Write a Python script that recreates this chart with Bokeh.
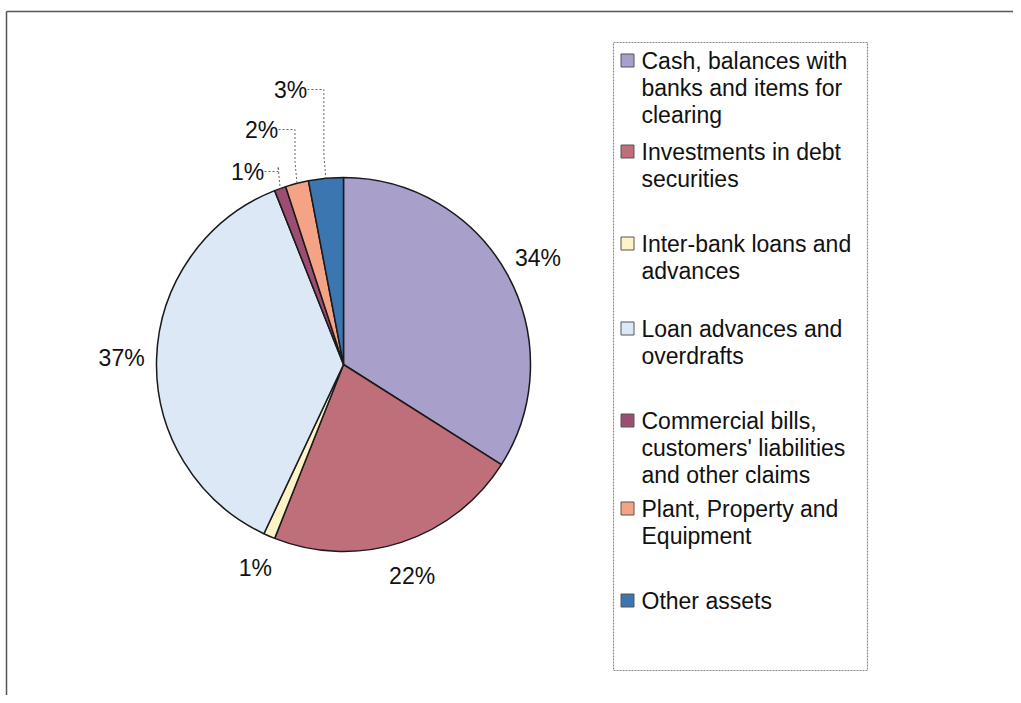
import math
from bokeh.plotting import figure
from bokeh.models import Range1d
from bokeh.core.properties import value
from bokeh.embed import file_html
from bokeh.resources import INLINE

# ---- data ----
categories = [
    "Cash, balances with banks and items for clearing",
    "Investments in debt securities",
    "Inter-bank loans and advances",
    "Loan advances and overdrafts",
    "Commercial bills, customers' liabilities and other claims",
    "Plant, Property and Equipment",
    "Other assets",
]
legend_lines = [
    ["Cash, balances with", "banks and items for", "clearing"],
    ["Investments in debt", "securities"],
    ["Inter-bank loans and", "advances"],
    ["Loan advances and", "overdrafts"],
    ["Commercial bills,", "customers' liabilities", "and other claims"],
    ["Plant, Property and", "Equipment"],
    ["Other assets"],
]
shares = [34, 22, 1, 37, 1, 2, 3]
labels = ["34%", "22%", "1%", "37%", "1%", "2%", "3%"]
colors = ["#a89fcb", "#bf6f7a", "#fdf3c6", "#dde8f6", "#9c4e72", "#f4a385", "#3b76b0"]

# ---- layout constants (pixel space) ----
W, H = 1013, 695
CX, CY, R = 343, 364, 187
LABEL_R = 222
FONT = "Liberation Sans"
FS = "23px"

p = figure(width=W, height=H, output_backend="svg", toolbar_location=None,
           x_range=Range1d(0, W), y_range=Range1d(-H, 0),
           min_border=0)
p.axis.visible = False
p.grid.visible = False
p.outline_line_color = None
p.background_fill_color = "white"
p.border_fill_color = "white"

# image frame (top and left)
p.line([6, W], [-11, -11], line_color="#555555", line_width=1.5)
p.line([6, 6], [-11, -H], line_color="#555555", line_width=1.5)

# ---- pie ----
total = float(sum(shares))
starts, ends, mids = [], [], []
cum = 0.0
for s in shares:
    a0 = cum / total
    cum += s
    a1 = cum / total
    # clockwise from 12 o'clock
    starts.append(math.pi / 2 - 2 * math.pi * a1)
    ends.append(math.pi / 2 - 2 * math.pi * a0)
    mids.append((a0 + a1) / 2)

p.wedge(x=[CX] * len(shares), y=[-CY] * len(shares), radius=R,
        start_angle=starts, end_angle=ends, direction="anticlock",
        fill_color=colors, line_color="#1a1a1a", line_width=1.5)

# ---- percentage labels ----
small_text_pos = {4: (247, 171), 5: (261, 129), 6: (290, 89)}
lx, ly = [], []
for i, m in enumerate(mids):
    ang = 2 * math.pi * m
    if i in small_text_pos:
        tx, ty = small_text_pos[i]
        px = CX + R * math.sin(ang)
        py = CY - R * math.cos(ang)
        ex = px - 2
        half = 13 if len(labels[i]) == 2 else 19
        p.line([tx + half + 4, ex, ex, px], [-ty, -ty, -(py - 22), -py],
               line_color="#666666", line_width=1, line_dash="2 2")
        lx.append(tx)
        ly.append(-ty)
    else:
        lx.append(CX + LABEL_R * math.sin(ang))
        ly.append(-(CY - LABEL_R * math.cos(ang)))

p.text(x=lx, y=ly, text=labels, text_font=value(FONT), text_font_size=FS,
       text_color="#111111", text_align="center", text_baseline="middle")

# ---- legend ----
LEG_X0, LEG_Y0, LEG_X1, LEG_Y1 = 613, 42, 867, 670
p.quad(left=[LEG_X0], right=[LEG_X1], top=[-LEG_Y0], bottom=[-LEG_Y1],
       fill_color="white", line_color="#8a8a8a", line_width=1.2, line_dash="2 1")

entry_first_y = [60, 151, 243, 328, 420, 508, 600]
LINE_H = 27.3
sw_x, sw_y = [], []
tx_all, ty_all, tt_all = [], [], []
for i, lines in enumerate(legend_lines):
    y0 = entry_first_y[i]
    sw_x.append(627)
    sw_y.append(-y0)
    for j, t in enumerate(lines):
        tx_all.append(641)
        ty_all.append(-(y0 + j * LINE_H))
        tt_all.append(t)

p.rect(x=sw_x, y=sw_y, width=13, height=13, fill_color=colors,
       line_color="#555555", line_width=1)
p.text(x=tx_all, y=ty_all, text=tt_all, text_font=value(FONT),
       text_font_size=FS, text_color="#111111", text_align="left",
       text_baseline="middle")

open("out.html", "w").write(file_html(p, INLINE))
